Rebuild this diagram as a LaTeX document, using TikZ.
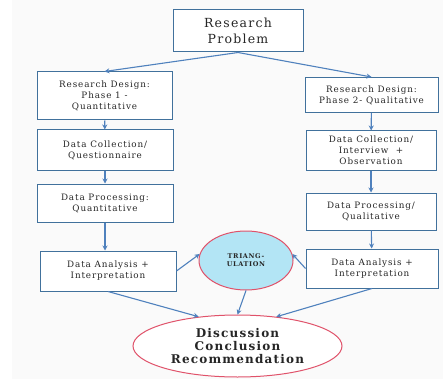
\documentclass[tikz,border=0pt]{standalone}
\usepackage{fontspec}
\setmainfont{DejaVu Serif}[LetterSpace=10]
\usetikzlibrary{shapes.geometric,arrows.meta}
\definecolor{boxblue}{HTML}{41719C}
\definecolor{arrowblue}{HTML}{4F81BD}
\definecolor{ringred}{HTML}{E0526A}
\definecolor{trifill}{HTML}{B3E5F5}
\definecolor{txt}{HTML}{262626}
\begin{document}
\begin{tikzpicture}[x=1pt,y=-1pt,
  stepbox/.style={draw=boxblue,line width=1pt,fill=white,rectangle,align=center,
    inner sep=0pt,text=txt,font=\fontsize{8.8}{11}\selectfont},
  arr/.style={draw=arrowblue,line width=1.1pt,-{Stealth[length=5pt,width=5pt]}}]
\useasboundingbox (0,0) rectangle (443,379);
\fill[white] (0,0) rectangle (443,379);
\fill[black!2] (12,0) rectangle (443,379);
\node[stepbox,minimum width=130pt,minimum height=42pt,font=\fontsize{12.5}{16.5}\selectfont] (rp) at (238,31) {Research\\Problem};
\node[stepbox,minimum width=135pt,minimum height=48pt] (l1) at (104.5,96) {Research Design:\\Phase 1 -\\Quantitative};
\node[stepbox,minimum width=133pt,minimum height=35pt] (r1) at (371.5,95) {Research Design:\\Phase 2- Qualitative};
\node[stepbox,minimum width=136pt,minimum height=40pt] (l2) at (105,150) {Data Collection/\\Questionnaire};
\node[stepbox,minimum width=130pt,minimum height=39pt] (r2) at (371,150.5) {Data Collection/\\Interview \ +\\Observation};
\node[stepbox,minimum width=136pt,minimum height=38pt] (l3) at (105,203) {Data Processing:\\Quantitative};
\node[stepbox,minimum width=130pt,minimum height=37pt] (r3) at (371,211.5) {Data Processing/\\Qualitative};
\node[stepbox,minimum width=136pt,minimum height=40pt] (l4) at (108,271) {Data Analysis +\\Interpretation};
\node[stepbox,minimum width=132pt,minimum height=39pt] (r4) at (372,268.5) {Data Analysis +\\Interpretation};
\node[ellipse,draw=ringred,line width=1pt,fill=trifill,minimum width=94pt,minimum height=59pt,
  inner sep=0pt,align=center,text=txt,font=\bfseries\fontsize{6.5}{8}\selectfont] (tri) at (246,260.5) {TRIANG-\\ULATION};
\node[ellipse,draw=ringred,line width=1pt,fill=white,minimum width=209pt,minimum height=62pt,
  inner sep=0pt,align=center,text=txt,font=\bfseries\fontsize{12}{13}\selectfont] (dis) at (237.5,346) {Discussion\\Conclusion\\Recommendation};
\draw[arr] (rp.south) -- (l1.north);
\draw[arr] (rp.south) -- (r1.north);
\draw[arr] (l1) -- (l2);
\draw[arr] (l2) -- (l3);
\draw[arr] (l3.south) -- (l4.north -| l3.south);
\draw[arr] (r1) -- (r2);
\draw[arr] (r2) -- (r3);
\draw[arr] (r3) -- (r4);
\draw[arr] (l4.east) -- (tri.172);
\draw[arr] (r4.west) -- (tri.8);
\draw[arr] (l4.south) -- (dis.143);
\draw[arr] (tri.south) -- (dis.north);
\draw[arr] (r4.south) -- (dis.37);
\end{tikzpicture}
\end{document}
